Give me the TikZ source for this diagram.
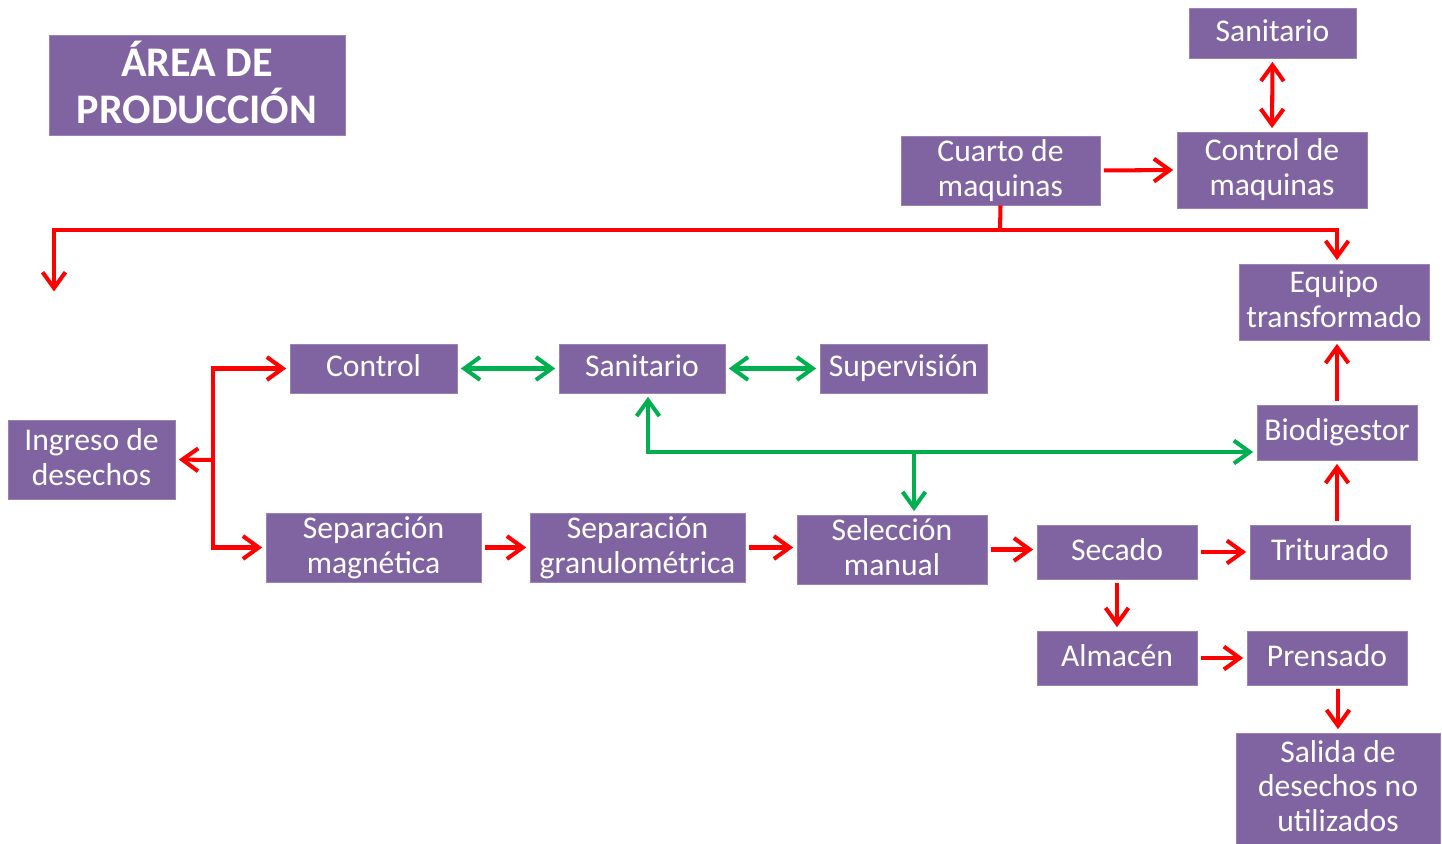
\documentclass[tikz,border=0pt]{standalone}
\usepackage{fontspec}
\setmainfont{Carlito}
\usepackage{tikz}
\usetikzlibrary{arrows.meta,calc}

\definecolor{morado}{HTML}{8064A2}
\definecolor{rojo}{HTML}{FF0000}
\definecolor{verde}{HTML}{00B050}

\begin{document}
\begin{tikzpicture}[x=0.02cm,y=-0.02cm,
		caja/.style={fill=morado, draw=morado!80!white, text=white, align=center, inner sep=0pt,
			text depth=0.3em, font=\fontsize{18}{19.8}\selectfont},
		roja/.style={rojo, line width=2.3pt, shorten >=2pt, shorten <=2pt,
			-{Straight Barb[length=9pt,width=13pt]}},
		dobleroja/.style={roja, {Straight Barb[length=9pt,width=13pt]}-{Straight Barb[length=9pt,width=13pt]}},
		verdeflecha/.style={verde, line width=2.3pt, shorten >=2pt, shorten <=2pt,
			-{Straight Barb[length=9pt,width=13pt]}},
		dobleverde/.style={verdeflecha, {Straight Barb[length=9pt,width=13pt]}-{Straight Barb[length=9pt,width=13pt]}}]
		\useasboundingbox (0,0) rectangle (1442,844);
		
		% titulo
		\node[caja, minimum width=5.92cm, minimum height=2cm, font=\bfseries\fontsize{24}{26.6}\selectfont]
		(titulo) at (197,85) {ÁREA DE\\PRODUCCIÓN};
		
		% parte superior
		\node[caja, minimum width=3.34cm, minimum height=1cm] (san1) at (1272.5,33) {Sanitario};
		\node[caja, minimum width=3.8cm, minimum height=1.52cm] (ctrlmaq) at (1272,170) {Control de\\maquinas};
		\node[caja, minimum width=3.98cm, minimum height=1.38cm] (cuarto) at (1000.5,170.5) {Cuarto de\\maquinas};
		\node[caja, minimum width=3.8cm, minimum height=1.52cm] (equipo) at (1334,302) {Equipo\\transformado};
		
		% fila de control
		\node[caja, minimum width=3.34cm, minimum height=0.98cm] (control) at (373.5,368.5) {Control};
		\node[caja, minimum width=3.32cm, minimum height=0.98cm] (san2) at (642,368.5) {Sanitario};
		\node[caja, minimum width=3.34cm, minimum height=0.98cm] (superv) at (903.5,368.5) {Supervisión};
		\node[caja, minimum width=3.34cm, minimum height=1.58cm] (ingreso) at (91.5,459.5) {Ingreso de\\desechos};
		\node[caja, minimum width=3.2cm, minimum height=1.1cm] (biodig) at (1337,432.5) {Biodigestor};
		
		% fila de proceso
		\node[caja, minimum width=4.3cm, minimum height=1.38cm] (sepmag) at (373.5,547.5) {Separación\\magnética};
		\node[caja, minimum width=4.3cm, minimum height=1.38cm] (sepgran) at (637.5,547.5) {Separación\\granulométrica};
		\node[caja, minimum width=3.8cm, minimum height=1.38cm] (selec) at (892,549.5) {Selección\\manual};
		\node[caja, minimum width=3.2cm, minimum height=1.08cm] (secado) at (1117,552) {Secado};
		\node[caja, minimum width=3.2cm, minimum height=1.08cm] (trit) at (1330,552) {Triturado};
		\node[caja, minimum width=3.2cm, minimum height=1.08cm] (almacen) at (1117,658) {Almacén};
		\node[caja, minimum width=3.2cm, minimum height=1.08cm] (prensado) at (1327,658) {Prensado};
		\node[caja, minimum width=4.08cm, minimum height=2.22cm] (salida) at (1338,788.5) {Salida de\\desechos no\\utilizados};
		
		% puntos de cruce
		\coordinate (cruce) at (1000,230);
		\coordinate (libre) at (54,295);
		\coordinate (rama) at (213,460);
		\coordinate (bus) at (914,452);
		
		% flechas rojas de arriba
		\draw[dobleroja] (san1.south) -- (ctrlmaq.north);
		\draw[roja] (cuarto.east) -- (ctrlmaq.west);
		\draw[rojo, line width=2.3pt] (cuarto.south) -- (cruce);
		\draw[roja, shorten <=0pt] (cruce) -| (libre);
		\draw[roja, shorten <=0pt] (cruce) -| (equipo.north -| biodig);
		\draw[roja] (biodig.north) -- (equipo.south -| biodig);
		\draw[roja] (trit.north -| biodig) -- (biodig.south);
		
		% flechas verdes
		\draw[dobleverde] (control.east) -- (san2.west);
		\draw[dobleverde] (san2.east) -- (superv.west);
		\draw[dobleverde] ([xshift=0.12cm]san2.south) |- (biodig.west |- bus);
		\draw[verdeflecha, shorten <=0pt] (bus) -- (selec.north -| bus);
		
		% ingreso de desechos
		\draw[roja, shorten <=0pt] (rama) -- (ingreso.east);
		\draw[roja, shorten <=0pt] (rama) |- (control.west);
		\draw[roja, shorten <=0pt] (rama) |- (sepmag.west);
		
		% proceso
		\draw[roja] (sepmag.east) -- (sepgran.west);
		\draw[roja] (sepgran.east) -- (sepgran.east -| selec.west);
		\draw[roja] (selec.east) -- (selec.east -| secado.west);
		\draw[roja] (secado.east) -- (trit.west);
		\draw[roja] (secado.south) -- (almacen.north);
		\draw[roja] (almacen.east) -- (prensado.west);
		\draw[roja] (prensado.south -| salida) -- (salida.north);
		
	\end{tikzpicture}
\end{document}
